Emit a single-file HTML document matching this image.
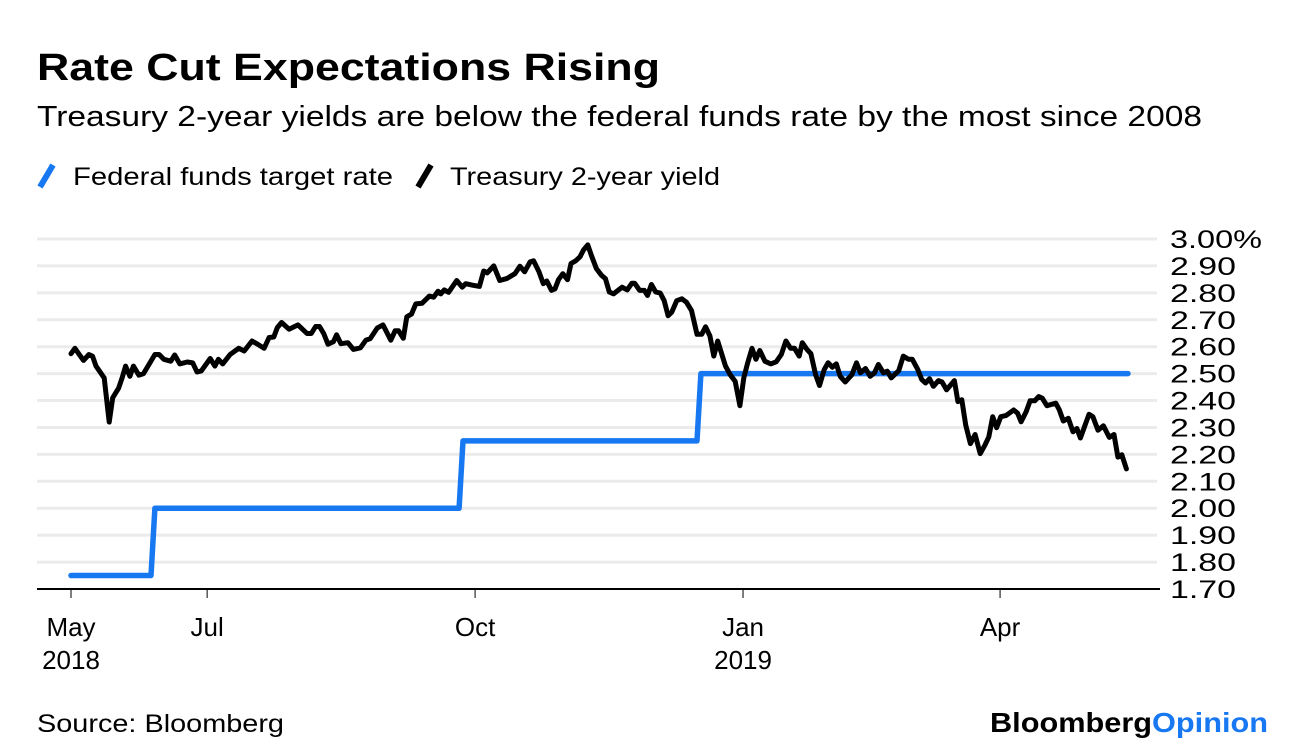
<!DOCTYPE html>
<html><head><meta charset="utf-8"><style>
html,body{margin:0;padding:0;background:#fff;}
svg{display:block;font-family:"Liberation Sans",sans-serif;}
</style></head><body>
<svg id="chart" width="1296" height="754" viewBox="0 0 1296 754" xmlns="http://www.w3.org/2000/svg">
<text x="37" y="80" font-size="38" font-weight="bold" textLength="623" lengthAdjust="spacingAndGlyphs">Rate Cut Expectations Rising</text>
<text x="37" y="126" font-size="29" textLength="1165" lengthAdjust="spacingAndGlyphs">Treasury 2-year yields are below the federal funds rate by the most since 2008</text>
<g>
<g>
<line x1="40" y1="187" x2="53" y2="165" stroke="#1778f2" stroke-width="6"/>
<text x="73" y="185" font-size="25" textLength="320" lengthAdjust="spacingAndGlyphs">Federal funds target rate</text>
</g>
<g>
<line x1="418" y1="187" x2="431" y2="165" stroke="#000" stroke-width="6"/>
<text x="450" y="185" font-size="25" textLength="270" lengthAdjust="spacingAndGlyphs">Treasury 2-year yield</text>
</g>
</g>
<g id="grid"></g>
<g id="yaxis"></g>
<g id="xaxis"></g>
<g id="series"></g>
<text x="37" y="732" font-size="25" textLength="247" lengthAdjust="spacingAndGlyphs">Source: Bloomberg</text>
<text x="990" y="732" font-size="28" font-weight="bold" textLength="278" lengthAdjust="spacingAndGlyphs"><tspan fill="#000">Bloomberg</tspan><tspan fill="#1778f2">Opinion</tspan></text>
</svg>
<script>
const yTicks = [1.70,1.80,1.90,2.00,2.10,2.20,2.30,2.40,2.50,2.60,2.70,2.80,2.90,3.00];
const xTickPos = [0,34.9,103.6,172.3,238.2];
const xTickMonths = ["May","Jul","Oct","Jan","Apr"];
const xTickYears = ["2018","","","2019",""];
const fedT = [0,20.5,21.5,99.5,100.5,160.5,161.5,271];
const fedV = [1.75,1.75,2.00,2.00,2.25,2.25,2.50,2.50];
const tsyT = [0,1,3.2,4.6,5.5,6.4,8.5,9.8,10.7,12.2,13.1,14.0,15.1,16.0,17.4,18.6,21.5,22.6,23.8,25.6,26.6,27.9,29.8,31.2,32.3,33.4,35.7,36.9,37.8,38.9,40.8,43.0,44.4,46.4,47.9,49.5,50.8,52.0,52.9,54.0,55.9,58.2,60.5,61.6,62.7,63.7,64.8,65.9,67.3,68.1,69.2,71.0,72.4,74.2,75.6,76.7,78.5,80.0,82.0,83.1,84.0,85.2,86.1,87.3,88.4,90.0,91.9,93.0,94.1,94.8,95.7,96.8,98.9,100.3,101.2,103.1,104.7,105.8,106.7,108.4,109.9,111.7,113.8,115.1,116.3,117.7,118.6,120.0,121.1,122.0,123.2,124.1,125.0,126.1,127.3,128.2,129.4,130.5,131.4,132.5,
133.4,134.7,136.0,137.0,138.0,139.1,141.3,142.6,143.8,144.5,145.8,147.0,147.8,148.8,149.9,151.1,152.1,153.1,154.0,155.3,156.6,157.8,159.1,160.5,161.7,162.7,163.8,164.8,165.8,167.8,169.0,170.3,171.5,172.5,173.5,174.6,175.6,176.6,177.9,179.4,180.8,182.1,183.3,184.5,185.5,186.7,187.5,188.7,189.7,190.9,191.9,193.1,194.1,195.2,196.2,197.2,198.5,200.2,201.4,202.4,203.7,204.9,206.0,207.0,208.3,209.3,210.3,212.2,213.4,214.7,215.7,217.1,218.1,219.1,220.1,221.1,222.4,223.3,224.5,226.5,227.4,228.4,229.4,230.6,231.8,233.1,234.3,235.3,236.3,237.3,238.4,239.7,241.7,242.7,243.6,244.9,245.9,247.1,248.1,249.0,250.2,252.5,253.4,254.4,255.7,256.9,257.9,258.8,261.0,262.0,263.3,264.7,266.2,267.4,268.4,269.4,270.6];
const tsyV = [2.574,2.594,2.549,2.571,2.565,2.528,2.484,2.32,2.41,2.446,2.484,2.528,2.49,2.528,2.494,2.50,2.571,2.571,2.553,2.546,2.569,2.536,2.543,2.54,2.506,2.51,2.556,2.528,2.553,2.536,2.571,2.594,2.584,2.621,2.609,2.594,2.634,2.636,2.671,2.69,2.665,2.681,2.649,2.649,2.675,2.675,2.649,2.609,2.619,2.644,2.611,2.615,2.59,2.596,2.624,2.63,2.669,2.681,2.624,2.659,2.659,2.631,2.711,2.721,2.759,2.761,2.788,2.784,2.806,2.796,2.811,2.802,2.846,2.821,2.834,2.828,2.824,2.881,2.874,2.90,2.846,2.853,2.871,2.899,2.878,2.915,2.919,2.878,2.834,2.844,2.809,2.815,2.849,2.871,2.849,2.909,2.919,2.934,2.959,2.978,
2.94,2.89,2.865,2.853,2.803,2.796,2.821,2.811,2.836,2.836,2.809,2.809,2.79,2.831,2.803,2.799,2.771,2.715,2.728,2.771,2.778,2.765,2.734,2.646,2.646,2.674,2.64,2.565,2.621,2.528,2.496,2.471,2.381,2.484,2.54,2.594,2.553,2.586,2.546,2.536,2.544,2.571,2.621,2.594,2.594,2.565,2.615,2.59,2.574,2.496,2.456,2.515,2.54,2.524,2.536,2.49,2.469,2.496,2.54,2.503,2.519,2.49,2.503,2.534,2.503,2.509,2.484,2.511,2.565,2.553,2.553,2.515,2.478,2.465,2.481,2.453,2.474,2.469,2.44,2.474,2.396,2.403,2.309,2.24,2.274,2.203,2.234,2.265,2.34,2.299,2.34,2.344,2.365,2.353,2.321,2.359,2.399,2.399,2.415,2.409,2.381,2.39,2.365,2.324,2.334,2.284,2.296,2.261,2.349,2.34,2.29,2.306,2.263,2.274,2.19,2.199,2.146];

const NS="http://www.w3.org/2000/svg";
const X0=71, X1=1128, T0=0, T1=271;
const yMin=1.70, yMax=3.00, yBot=589, yTop=239;
function xs(t){return X0+(t-T0)/(T1-T0)*(X1-X0);}
function ys(v){return yBot-(v-yMin)/(yMax-yMin)*(yBot-yTop);}
function mk(tag,attrs,parent){const e=document.createElementNS(NS,tag);for(const k in attrs)e.setAttribute(k,attrs[k]);parent.appendChild(e);return e;}
const grid=document.getElementById('grid'), yax=document.getElementById('yaxis'), xax=document.getElementById('xaxis'), ser=document.getElementById('series');
yTicks.forEach((v,i)=>{
  const y=ys(v);
  if(i>0){const g=mk('line',{x1:37,x2:1157,y1:y,y2:y,stroke:'#ebebeb','stroke-width':3},grid);
  
  }
  const last=i===yTicks.length-1;
  const t=mk('text',{x:1170,y:y+9,'font-size':25,textLength:last?92:66,lengthAdjust:'spacingAndGlyphs'},yax);
  
  
  t.textContent=v.toFixed(2)+(last?'%':'');
});
const ax=mk('line',{x1:37,x2:1160,y1:yBot,y2:yBot,stroke:'#000','stroke-width':2},xax);


xTickPos.forEach((t,i)=>{
  const x=xs(t);
  const tk=mk('line',{x1:x,x2:x,y1:yBot,y2:yBot+9,stroke:'#000','stroke-width':1},xax);
  
  
  const lb=mk('text',{x:x,y:636,'font-size':26,'text-anchor':'middle'},xax);
  
  
  lb.textContent=xTickMonths[i];
  if(xTickYears[i]){const yl=mk('text',{x:x,y:669,'font-size':26,'text-anchor':'middle'},xax);
  
  
  yl.textContent=xTickYears[i];}
});
function pathD(T,V){return T.map((t,i)=>(i?'L':'M')+xs(t).toFixed(1)+','+ys(V[i]).toFixed(1)).join('');}
const fed=mk('path',{d:pathD(fedT,fedV),fill:'none',stroke:'#1778f2','stroke-width':5.5,'stroke-linejoin':'round','stroke-linecap':'round'},ser);


const tsy=mk('path',{d:pathD(tsyT,tsyV),fill:'none',stroke:'#000','stroke-width':5,'stroke-linejoin':'round','stroke-linecap':'round'},ser);


</script>
</body></html>
